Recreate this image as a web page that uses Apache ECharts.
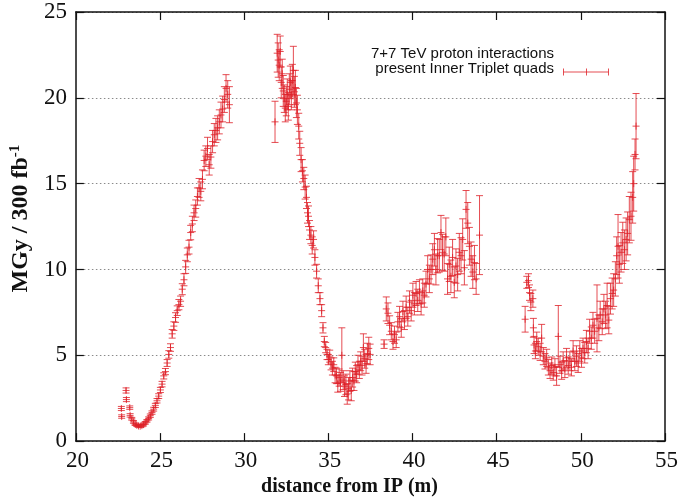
<!DOCTYPE html>
<html>
<head>
<meta charset="utf-8">
<script src="https://cdn.jsdelivr.net/npm/echarts@6/dist/echarts.min.js"></script>
<style>
  html, body { margin: 0; padding: 0; background: #fff; }
  #chart { width: 681px; height: 502px; }
</style>
</head>
<body>
<div id="chart"></div>
<script>
// Dose profile along the inner triplet: distance from IP (m), dose (MGy / 300 fb^-1), error.

// Q1 region
const distQ1 = [22.70, 22.72, 22.98, 23.00, 23.20, 23.22, 23.32, 23.42, 23.52, 23.62, 23.72, 23.82, 23.92, 24.02, 24.12, 24.22, 24.32, 24.42, 24.52, 24.62, 24.72, 24.82, 24.92, 25.02, 25.12, 25.22, 25.32, 25.42, 25.52, 25.62, 25.72, 25.82, 25.92, 26.02, 26.12, 26.22, 26.32, 26.42, 26.52, 26.62, 26.72, 26.82, 26.92, 27.02, 27.12, 27.22, 27.32, 27.42, 27.52, 27.62, 27.72, 27.82, 27.92, 28.02, 28.12, 28.22, 28.32, 28.42, 28.52, 28.62, 28.72, 28.82, 28.92, 29.02, 29.12];
const doseQ1 = [1.90, 1.43, 2.95, 2.42, 1.95, 1.50, 1.30, 1.12, 0.98, 0.92, 0.88, 0.87, 0.90, 0.96, 1.06, 1.18, 1.32, 1.48, 1.66, 1.86, 2.08, 2.35, 2.62, 2.98, 3.32, 3.80, 4.05, 4.55, 5.05, 5.45, 6.25, 6.70, 7.20, 7.60, 7.95, 8.15, 8.85, 9.40, 10.15, 10.85, 11.30, 12.15, 12.65, 13.30, 13.55, 14.25, 14.75, 14.55, 15.25, 16.35, 16.60, 17.05, 16.10, 16.55, 17.45, 17.85, 18.10, 18.25, 18.60, 19.00, 19.35, 19.90, 20.55, 20.20, 19.60];
const errQ1 = [0.12, 0.10, 0.15, 0.12, 0.10, 0.10, 0.08, 0.08, 0.07, 0.07, 0.07, 0.07, 0.07, 0.08, 0.08, 0.08, 0.09, 0.10, 0.10, 0.11, 0.12, 0.13, 0.14, 0.15, 0.16, 0.18, 0.18, 0.20, 0.22, 0.22, 0.25, 0.25, 0.28, 0.28, 0.30, 0.30, 0.32, 0.35, 0.38, 0.40, 0.40, 0.42, 0.45, 0.45, 0.50, 0.50, 0.55, 0.55, 0.55, 0.60, 0.60, 0.65, 0.60, 0.65, 0.65, 0.65, 0.70, 0.70, 0.70, 0.75, 0.75, 0.75, 0.80, 0.80, 1.05];

// Q2a / Q2b region
const distQ2 = [31.83, 31.96, 32.02, 32.08, 32.14, 32.20, 32.26, 32.32, 32.38, 32.44, 32.50, 32.56, 32.62, 32.68, 32.74, 32.80, 32.86, 32.92, 32.98, 33.04, 33.10, 33.16, 33.24, 33.30, 33.38, 33.46, 33.54, 33.62, 33.70, 33.76, 33.82, 33.88, 33.96, 34.04, 34.12, 34.20, 34.30, 34.40, 34.50, 34.60, 34.68, 34.76, 34.84, 34.92, 35.00, 35.08, 35.16, 35.24, 35.32, 35.40, 35.48, 35.56, 35.64, 35.72, 35.80, 35.88, 35.96, 36.04, 36.12, 36.20, 36.28, 36.36, 36.44, 36.52, 36.60, 36.68, 36.76, 36.84, 36.92, 37.00, 37.08, 37.16, 37.24, 37.32, 37.40, 37.48];
const doseQ2 = [18.60, 22.60, 22.20, 21.90, 22.70, 20.90, 21.40, 20.40, 19.95, 19.40, 19.80, 20.20, 19.50, 20.50, 20.90, 20.15, 21.00, 21.60, 20.35, 20.60, 19.70, 19.30, 18.35, 17.35, 16.40, 15.75, 15.30, 14.80, 14.20, 13.30, 13.10, 12.30, 12.00, 11.40, 11.75, 10.70, 9.90, 9.05, 8.30, 7.60, 6.60, 5.80, 5.45, 5.05, 4.75, 4.95, 4.50, 4.25, 4.45, 3.85, 3.80, 3.35, 3.70, 3.45, 5.00, 3.55, 3.20, 3.30, 2.75, 3.05, 3.50, 2.95, 3.70, 3.50, 4.05, 3.90, 4.45, 4.15, 4.65, 4.40, 5.45, 4.80, 4.50, 5.10, 5.40, 5.05];
const errQ2 = [1.20, 1.10, 1.00, 0.90, 0.90, 0.90, 0.85, 0.90, 0.80, 0.80, 0.85, 0.90, 0.80, 0.90, 0.95, 0.85, 0.95, 1.40, 0.90, 1.00, 0.85, 0.85, 0.75, 0.70, 0.70, 0.65, 0.65, 0.70, 0.65, 0.60, 0.60, 0.55, 0.50, 0.50, 0.50, 0.45, 0.40, 0.40, 0.35, 0.35, 0.30, 0.30, 0.30, 0.30, 0.30, 0.35, 0.35, 0.40, 0.40, 0.45, 0.45, 0.50, 0.50, 0.55, 1.60, 0.55, 0.60, 0.60, 0.60, 0.65, 0.60, 0.60, 0.55, 0.55, 0.55, 0.50, 0.55, 0.50, 0.55, 0.55, 0.80, 0.55, 0.55, 0.60, 0.65, 0.60];

// Q3 region (left part)
const distQ3 = [38.31, 38.44, 38.54, 38.64, 38.74, 38.84, 38.93, 39.03, 39.13, 39.23, 39.33, 39.43, 39.52, 39.62, 39.72, 39.82, 39.92, 40.02, 40.11, 40.21, 40.31, 40.41, 40.51, 40.61, 40.70, 40.80, 40.90, 41.00, 41.10, 41.20, 41.30, 41.39, 41.49, 41.59, 41.69, 41.78, 41.88, 41.98, 42.08, 42.18, 42.28, 42.38, 42.48, 42.58, 42.68, 42.78, 42.88, 42.98, 43.08, 43.18, 43.28, 43.38, 43.48, 43.58, 43.68, 43.78, 43.98];
const doseQ3 = [5.65, 7.70, 7.45, 6.75, 6.40, 5.80, 6.20, 5.90, 6.95, 7.25, 6.60, 7.55, 7.05, 7.80, 7.25, 8.10, 7.60, 8.50, 8.00, 8.60, 8.20, 8.70, 8.00, 8.75, 8.50, 9.15, 10.00, 9.45, 10.00, 10.60, 11.15, 10.00, 10.80, 10.80, 12.15, 11.00, 10.90, 11.90, 9.45, 10.30, 9.60, 10.70, 9.25, 10.20, 9.70, 11.00, 10.80, 11.75, 10.10, 13.50, 12.70, 11.35, 10.60, 9.85, 10.40, 9.45, 12.00];
const errQ3 = [0.25, 0.70, 0.60, 0.55, 0.50, 0.45, 0.50, 0.45, 0.55, 0.60, 0.55, 0.60, 0.55, 0.65, 0.55, 0.65, 0.60, 0.70, 0.65, 0.70, 0.65, 0.70, 0.65, 0.70, 0.70, 0.75, 0.80, 0.80, 0.85, 0.90, 0.95, 0.90, 1.00, 0.95, 1.00, 1.05, 1.00, 1.10, 0.90, 1.00, 0.95, 1.05, 0.90, 1.00, 0.95, 1.10, 1.05, 1.20, 1.00, 1.10, 1.20, 1.10, 1.00, 0.95, 1.00, 0.90, 2.30];

// Q3 region (right part)
const distQ4 = [46.69, 46.79, 46.89, 46.95, 47.03, 47.15, 47.18, 47.22, 47.30, 47.38, 47.47, 47.58, 47.67, 47.77, 47.87, 47.97, 48.07, 48.17, 48.27, 48.36, 48.46, 48.56, 48.66, 48.76, 48.86, 48.95, 49.05, 49.15, 49.25, 49.35, 49.44, 49.54, 49.64, 49.74, 49.84, 49.94, 50.04, 50.13, 50.23, 50.33, 50.43, 50.52, 50.62, 50.72, 50.82, 50.96, 51.07, 51.15, 51.27, 51.37, 51.47, 51.56, 51.66, 51.76, 51.86, 51.95, 52.05, 52.13, 52.21, 52.29, 52.39, 52.49, 52.59, 52.69, 52.78, 52.88, 52.98, 53.08, 53.14, 53.22, 53.28];
const doseQ4 = [7.10, 9.25, 9.35, 8.65, 8.10, 8.30, 6.60, 5.60, 5.25, 5.80, 5.50, 5.20, 6.00, 4.95, 4.65, 4.85, 4.30, 4.10, 4.40, 4.00, 4.30, 3.80, 6.10, 4.45, 4.10, 4.65, 4.20, 4.85, 4.40, 4.65, 4.30, 5.25, 4.65, 4.95, 4.55, 5.25, 4.85, 5.40, 5.15, 5.80, 5.40, 6.40, 6.00, 6.75, 6.40, 7.15, 6.60, 7.35, 6.95, 7.70, 7.35, 7.90, 7.05, 8.30, 8.60, 8.80, 9.45, 10.80, 11.35, 10.30, 11.00, 11.55, 11.15, 11.75, 12.10, 12.90, 13.10, 14.20, 15.00, 16.70, 18.35];
const errQ4 = [0.75, 0.35, 0.40, 0.45, 0.50, 0.50, 0.55, 0.50, 0.45, 0.55, 0.50, 0.50, 0.80, 0.50, 0.45, 0.50, 0.45, 0.45, 0.50, 0.45, 0.50, 0.55, 1.80, 0.50, 0.50, 0.55, 0.50, 0.55, 0.50, 0.55, 0.50, 0.60, 0.55, 0.60, 0.55, 0.60, 0.55, 0.60, 0.60, 0.65, 0.60, 0.70, 0.65, 0.75, 0.70, 1.95, 0.75, 0.80, 0.75, 0.85, 0.80, 1.30, 0.80, 0.90, 0.90, 0.95, 1.00, 1.10, 1.85, 1.10, 1.15, 1.20, 1.15, 1.25, 1.25, 1.35, 1.40, 1.50, 1.60, 0.90, 1.90];

// Axis ticks
const xTicks = [20, 25, 30, 35, 40, 45, 50, 55];
const yTicks = [0, 5, 10, 15, 20, 25];

const seriesName = '7+7 TeV proton interactions\npresent Inner Triplet quads';
const RED = 'rgba(222, 32, 40, 0.8)';

function rows(xs, ys, es) {
  return xs.map((x, i) => [x, ys[i], es[i]]);
}
const points = [].concat(
  rows(distQ1, doseQ1, errQ1),
  rows(distQ2, doseQ2, errQ2),
  rows(distQ3, doseQ3, errQ3),
  rows(distQ4, doseQ4, errQ4)
);

// Each point: a vertical error bar with end caps and a "+" marker at the value.
function renderErrorPoint(params, api) {
  const x = api.value(0), y = api.value(1), e = api.value(2);
  const c = api.coord([x, y]);
  const hi = api.coord([x, y + e]);
  const lo = api.coord([x, y - e]);
  const cap = 3.5, arm = 3.5;
  const style = { stroke: RED, lineWidth: 1, fill: null };
  return {
    type: 'group',
    children: [
      { type: 'line', shape: { x1: c[0], y1: hi[1], x2: c[0], y2: lo[1] }, style },
      { type: 'line', shape: { x1: c[0] - cap, y1: hi[1], x2: c[0] + cap, y2: hi[1] }, style },
      { type: 'line', shape: { x1: c[0] - cap, y1: lo[1], x2: c[0] + cap, y2: lo[1] }, style },
      { type: 'line', shape: { x1: c[0] - arm, y1: c[1], x2: c[0] + arm, y2: c[1] }, style },
      { type: 'line', shape: { x1: c[0], y1: c[1] - arm, x2: c[0], y2: c[1] + arm }, style }
    ]
  };
}

const serif = '"Liberation Serif", "Times New Roman", serif';
const sans = '"Liberation Sans", Arial, sans-serif';

const chart = echarts.init(document.getElementById('chart'), null, { renderer: 'canvas' });

const frameAxis = {
  axisLine: { show: true, onZero: false, lineStyle: { color: '#111', width: 1.5 } },
  axisTick: { show: true, inside: true, length: 8, lineStyle: { color: '#111', width: 1.2 } }
};

chart.setOption({
  animation: false,
  backgroundColor: '#ffffff',
  grid: { left: 72, right: 15, top: 12, bottom: 54, containLabel: false },
  xAxis: [
    Object.assign({
      type: 'value', position: 'bottom',
      min: xTicks[0], max: xTicks[xTicks.length - 1], interval: 5,
      name: 'distance from IP (m)', nameLocation: 'middle', nameGap: 33,
      nameTextStyle: { fontFamily: serif, fontWeight: 'bold', fontSize: 20, color: '#111', padding: [0, 42, 0, 0] },
      axisLabel: { fontFamily: serif, fontSize: 23, color: '#111', margin: 8, padding: [0, 0, 0, 3] },
      splitLine: { show: false }
    }, frameAxis),
    Object.assign({
      type: 'value', position: 'top',
      min: xTicks[0], max: xTicks[xTicks.length - 1], interval: 5,
      axisLabel: { show: false },
      splitLine: { show: false }
    }, frameAxis)
  ],
  yAxis: [
    Object.assign({
      type: 'value', position: 'left',
      min: yTicks[0], max: yTicks[yTicks.length - 1], interval: 5,
      name: '{b|MGy / 300 fb}{s|-1}', nameLocation: 'middle', nameGap: 33, nameRotate: 90,
      nameTextStyle: {
        padding: [0, 0, 0, 16],
        rich: {
          b: { fontFamily: serif, fontWeight: 'bold', fontSize: 24, color: '#111' },
          s: { fontFamily: serif, fontWeight: 'bold', fontSize: 15, color: '#111', verticalAlign: 'bottom', padding: [0, 0, 11, 0] }
        }
      },
      axisLabel: { fontFamily: serif, fontSize: 23, color: '#111', margin: 9 },
      splitLine: {
        show: true,
        lineStyle: { color: '#8a8a8a', width: 1, type: [1.5, 2.5] }
      }
    }, frameAxis),
    Object.assign({
      type: 'value', position: 'right',
      min: yTicks[0], max: yTicks[yTicks.length - 1], interval: 5,
      axisLabel: { show: false },
      splitLine: { show: false }
    }, frameAxis)
  ],
  series: [
    {
      name: seriesName,
      type: 'custom',
      xAxisIndex: 0, yAxisIndex: 0,
      renderItem: renderErrorPoint,
      encode: { x: 0, y: 1 },
      data: points,
      clip: true,
      z: 5
    }
  ],
  graphic: [
    {
      type: 'text', right: 127, top: 46,
      style: { text: '7+7 TeV proton interactions', font: '15px ' + sans, fill: '#111', textAlign: 'right' }
    },
    {
      type: 'text', right: 127, top: 61,
      style: { text: 'present Inner Triplet quads', font: '15px ' + sans, fill: '#111', textAlign: 'right' }
    },
    {
      type: 'group', left: 561, top: 66,
      children: [
        { type: 'line', shape: { x1: 0, y1: 3.5, x2: 45, y2: 3.5 }, style: { stroke: RED, lineWidth: 1 } },
        { type: 'line', shape: { x1: 0, y1: 0, x2: 0, y2: 7 }, style: { stroke: RED, lineWidth: 1 } },
        { type: 'line', shape: { x1: 45, y1: 0, x2: 45, y2: 7 }, style: { stroke: RED, lineWidth: 1 } },
        { type: 'line', shape: { x1: 23, y1: 0, x2: 23, y2: 7 }, style: { stroke: RED, lineWidth: 1 } }
      ]
    }
  ]
});
</script>
</body>
</html>
